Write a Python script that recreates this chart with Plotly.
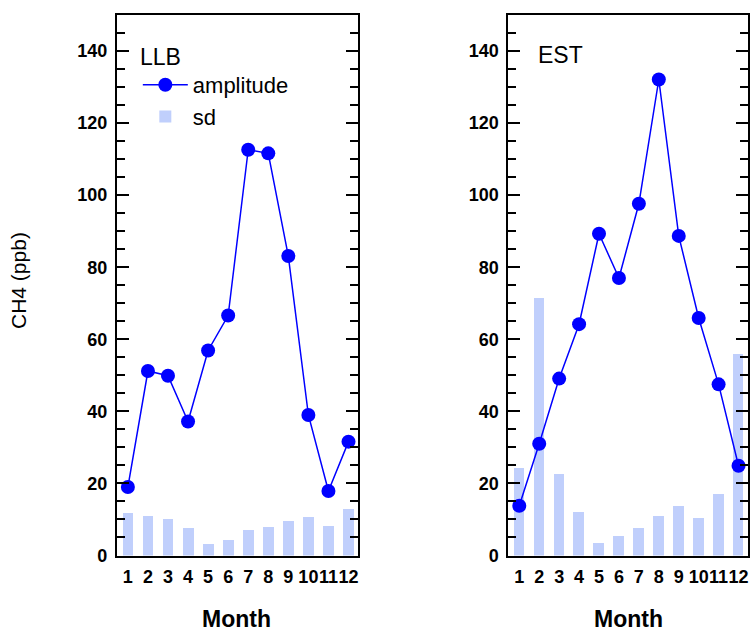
import plotly.graph_objects as go

months = list(range(1, 13))
month_labels = [str(m) for m in months]
llb_amplitude = [19.0, 51.2, 49.9, 37.2, 56.9, 66.6, 112.6, 111.6, 83.1, 39.0, 17.9, 31.6]
llb_sd = [11.9, 11.1, 10.0, 7.7, 3.1, 4.4, 7.2, 7.9, 9.5, 10.8, 8.2, 13.0]
est_amplitude = [13.8, 31.0, 49.1, 64.2, 89.3, 77.0, 97.6, 132.1, 88.7, 65.9, 47.5, 24.9]
est_sd = [24.4, 71.4, 22.6, 12.2, 3.6, 5.3, 7.6, 11.1, 13.8, 10.3, 17.2, 55.9]
y_ticks = [0, 20, 40, 60, 80, 100, 120, 140]

W, H = 752, 634      # reference picture size (positions below are fractions of it)
HF = 644             # figure height
BLUE = "#0000ff"
BAR = "#c0cffc"
FONT = "Liberation Sans"

fig = go.Figure()

panels = [
    ("x", "y", llb_amplitude, llb_sd, True),
    ("x2", "y2", est_amplitude, est_sd, False),
]
for xa, ya, amp, sd, show in panels:
    fig.add_trace(go.Bar(
        x=months, y=sd, name="sd", width=0.53,
        marker=dict(color=BAR, line=dict(width=0)),
        xaxis=xa, yaxis=ya, showlegend=show, legendrank=2,
    ))
    fig.add_trace(go.Scatter(
        x=months, y=amp, name="amplitude", mode="lines+markers",
        line=dict(color=BLUE, width=1.5),
        marker=dict(color=BLUE, size=14),
        xaxis=xa, yaxis=ya, showlegend=show, legendrank=1,
    ))

ydom = [1 - 555.5 / H, 1 - 15 / H]
xdom1 = [117 / W, 358 / W]
xdom2 = [509 / W, 748.5 / W]
xrange_ = [0.45, 12.45]

tickfont = dict(family=FONT, size=18, color="black", weight="bold")

def xaxis(dom, anchor):
    return dict(
        domain=dom, anchor=anchor, range=xrange_, tickvals=months, ticktext=month_labels,
        ticks="", showline=True, linecolor="black", linewidth=2, mirror=True,
        showgrid=False, zeroline=False, tickfont=tickfont, ticklabelstandoff=4,
        tickangle=0,
    )

def xtop(over, anchor):
    return dict(
        overlaying=over, anchor=anchor, side="top", range=xrange_, tickvals=months,
        ticks="inside", ticklen=12, tickwidth=1.5, tickcolor="black",
        showticklabels=False, showline=False, showgrid=False, zeroline=False,
    )

def yaxis(anchor):
    return dict(
        domain=ydom, anchor=anchor, range=[0, 150], tickvals=y_ticks,
        ticks="inside", ticklen=12, tickwidth=1.5, tickcolor="black",
        minor=dict(dtick=5, ticks="inside", ticklen=8, tickwidth=1.5, tickcolor="black"),
        showline=True, linecolor="black", linewidth=2, mirror="ticks",
        showgrid=False, zeroline=False, tickfont=tickfont, ticklabelstandoff=4,
    )

fig.update_layout(
    width=W, height=HF, margin=dict(l=0, r=0, t=0, b=0),
    paper_bgcolor="white", plot_bgcolor="white",
    xaxis=xaxis(xdom1, "y"), yaxis=yaxis("x"),
    xaxis2=xaxis(xdom2, "y2"), yaxis2=yaxis("x2"),
    xaxis3=xtop("x", "y"), xaxis4=xtop("x2", "y2"),
    bargap=0,
    legend=dict(
        x=138 / W, y=1 - 64 / H, xanchor="left", yanchor="top",
        bgcolor="rgba(0,0,0,0)", font=dict(family=FONT, size=22, color="black"),
        itemwidth=45, tracegroupgap=0,
    ),
    font=dict(family=FONT, color="black"),
)

ann = [
    dict(text="LLB", x=138 / W, y=1 - 57 / H, xanchor="left", yanchor="middle",
         font=dict(family=FONT, size=23)),
    dict(text="EST", x=537 / W, y=1 - 55 / H, xanchor="left", yanchor="middle",
         font=dict(family=FONT, size=23)),
    dict(text="Month", x=237 / W, y=0, xanchor="center", yanchor="bottom",
         font=dict(family=FONT, size=23, weight="bold")),
    dict(text="Month", x=629 / W, y=0, xanchor="center", yanchor="bottom",
         font=dict(family=FONT, size=23, weight="bold")),
    dict(text="CH4 (ppb)", x=19 / W, y=1 - 280 / H, xanchor="center", yanchor="middle",
         textangle=-90, font=dict(family=FONT, size=21)),
]
for a in ann:
    a.update(xref="paper", yref="paper", showarrow=False)
fig.update_layout(annotations=ann)

fig.write_html(
    "out.html",
    config={"displayModeBar": False},
    post_script="document.documentElement.style.margin='0';document.body.style.margin='0';document.body.style.overflow='hidden';",
)
